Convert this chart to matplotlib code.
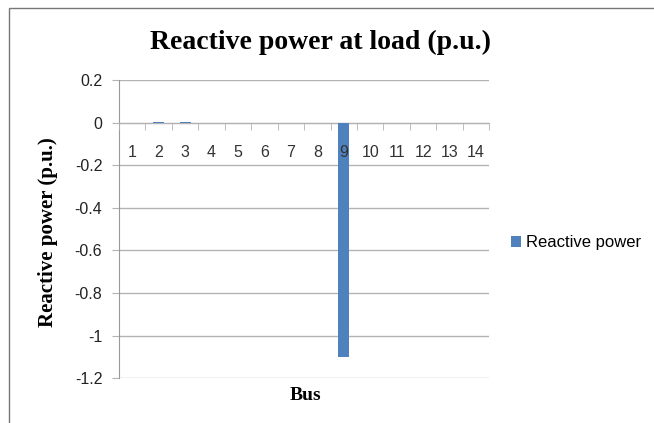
import numpy as np
import matplotlib
matplotlib.use("Agg")
import matplotlib.pyplot as plt
from matplotlib.patches import Rectangle

# ---------- data ----------
buses = [str(i) for i in range(1, 15)]
reactive_power = [0.0, 0.004, 0.004, 0.0, -0.004, 0.0, 0.0, 0.0, -1.1,
                  0.0, -0.004, -0.004, 0.0, 0.0]
y_ticks = [0.2, 0, -0.2, -0.4, -0.6, -0.8, -1, -1.2]
# --------------------------

BAR_COLOR = "#4F81BD"
GRID_COLOR = "#B3B3B3"
LABEL_FONT = "Liberation Sans"
SERIF = "Liberation Serif"

fig = plt.figure(figsize=(6.54, 4.23), dpi=100)
ax = fig.add_axes([0.182, 0.106, 0.566, 0.705])

x = np.arange(len(buses))
ax.bar(x, reactive_power, width=0.42, color=BAR_COLOR, zorder=3,
       label="Reactive power")

ax.set_xlim(-0.5, len(buses) - 0.5)
ax.set_ylim(-1.2, 0.2)
ax.set_yticks(y_ticks)
ax.set_yticklabels([f"{v:g}" for v in y_ticks], fontsize=11.5,
                   family=LABEL_FONT, color="#222222")
ax.yaxis.grid(True, color=GRID_COLOR, linewidth=1)
ax.set_axisbelow(True)
ax.tick_params(axis="y", length=5, color=GRID_COLOR, pad=7)

# category axis sits at zero
ax.spines["bottom"].set_position(("data", 0))
ax.spines["bottom"].set_color(GRID_COLOR)
ax.spines["left"].set_color("#999999")
ax.spines["top"].set_visible(False)
ax.spines["right"].set_visible(False)

ax.set_xticks(x)
ax.set_xticklabels(buses, fontsize=11.5, family=LABEL_FONT, color="#333333")
ax.tick_params(axis="x", which="major", length=0, pad=16)
ax.set_xticks(np.arange(-0.5, len(buses)), minor=True)
ax.tick_params(axis="x", which="minor", length=5, color=GRID_COLOR,
               direction="out")
ax.xaxis.set_zorder(4)  # keep the "9" visible on top of its bar

fig.text(0.49, 0.90, "Reactive power at load (p.u.)", family=SERIF,
         fontweight="bold", fontsize=20, ha="center", va="center")
fig.text(0.073, 0.452, "Reactive power (p.u.)", family=SERIF,
         fontweight="bold", fontsize=15, ha="center", va="center",
         rotation=90)
fig.text(0.467, 0.066, "Bus", family=SERIF, fontweight="bold",
         fontsize=14, ha="center", va="center")

leg = fig.legend(loc="center left", bbox_to_anchor=(0.782, 0.426),
                 frameon=False, handlelength=0.6, handleheight=0.6,
                 handletextpad=0.3, borderpad=0, borderaxespad=0,
                 prop={"family": LABEL_FONT, "size": 12})

# outer chart border
fig.add_artist(Rectangle((0.014, -0.1), 1.2, 1.081, transform=fig.transFigure,
                         fill=False, edgecolor="#777777", linewidth=1))

fig.savefig("out.png", dpi=100)
